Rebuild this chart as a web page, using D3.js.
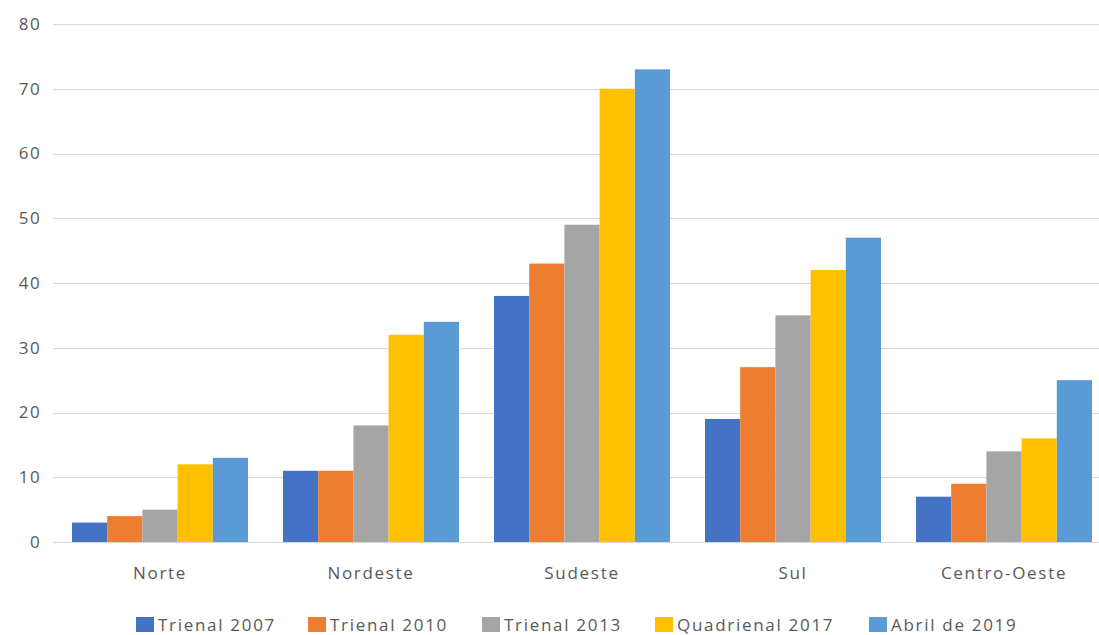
<!DOCTYPE html>
<html>
<head>
<meta charset="utf-8">
<script src="https://cdn.jsdelivr.net/npm/d3@7"></script>
<style>
  html, body { margin: 0; padding: 0; background: #fff; }
  svg { display: block; }
  text { font-family: "Open Sans", "Noto Sans", sans-serif; fill: #595959; }
</style>
</head>
<body>
<svg id="chart" width="1099" height="635"></svg>
<script>
// Regions and evaluation periods
const regions = ["Norte", "Nordeste", "Sudeste", "Sul", "Centro-Oeste"];
const periods = ["Trienal 2007", "Trienal 2010", "Trienal 2013", "Quadrienal 2017", "Abril de 2019"];

// Values per period, in region order
const trienal2007    = [3, 11, 38, 19, 7];
const trienal2010    = [4, 11, 43, 27, 9];
const trienal2013    = [5, 18, 49, 35, 14];
const quadrienal2017 = [12, 32, 70, 42, 16];
const abril2019      = [13, 34, 73, 47, 25];

const yTicks = [0, 10, 20, 30, 40, 50, 60, 70, 80];
const colors = ["#4472C4", "#ED7D31", "#A5A5A5", "#FFC000", "#5B9BD5"];

const seriesValues = [trienal2007, trienal2010, trienal2013, quadrienal2017, abril2019];
const rows = regions.map((r, i) => ({
  region: r,
  values: periods.map((p, j) => ({ period: p, value: seriesValues[j][i] }))
}));

const svg = d3.select("#chart");
const W = 1099;
const plotLeft = 53, plotRight = W;
const FONT = 17, SPACING = 1.7;

const y = d3.scaleLinear().domain([0, 80]).range([542, 24]);
const x0 = d3.scaleBand().domain(regions).range([54.5, 1109.5])
  .paddingInner(35 / 211).paddingOuter(35 / 422);
const x1 = d3.scaleBand().domain(periods).range([0, x0.bandwidth()]);
const color = d3.scaleOrdinal().domain(periods).range(colors);

// Horizontal gridlines
svg.append("g")
  .selectAll("line")
  .data(yTicks)
  .join("line")
  .attr("x1", plotLeft).attr("x2", plotRight)
  .attr("y1", d => Math.round(y(d)) + 0.5)
  .attr("y2", d => Math.round(y(d)) + 0.5)
  .attr("stroke", "#d9d9d9")
  .attr("stroke-width", 1.2);

// Y axis labels
const yAxis = d3.axisLeft(y).tickValues(yTicks).tickSize(0).tickPadding(0);
svg.append("g")
  .attr("transform", "translate(41.5,0)")
  .call(yAxis)
  .call(g => g.select(".domain").remove())
  .call(g => g.selectAll("text")
    .attr("font-family", "'Open Sans', sans-serif")
    .attr("font-size", FONT)
    .attr("letter-spacing", SPACING)
    .attr("fill", "#595959"));

// Bars
const groups = svg.append("g")
  .selectAll("g")
  .data(rows)
  .join("g")
  .attr("transform", d => `translate(${x0(d.region)},0)`);

groups.selectAll("rect")
  .data(d => d.values)
  .join("rect")
  .attr("x", d => x1(d.period))
  .attr("width", x1.bandwidth())
  .attr("y", d => y(d.value))
  .attr("height", d => y(0) - y(d.value))
  .attr("fill", d => color(d.period));

// Category axis labels
const xAxis = d3.axisBottom(x0).tickSize(0).tickPadding(0);
svg.append("g")
  .attr("transform", "translate(0,567)")
  .call(xAxis)
  .call(g => g.select(".domain").remove())
  .call(g => g.selectAll("text")
    .attr("font-family", "'Open Sans', sans-serif")
    .attr("font-size", FONT)
    .attr("letter-spacing", SPACING)
    .attr("fill", "#595959"));

// Legend
const legendX = [136, 308, 482, 655, 869];
const legend = svg.append("g")
  .selectAll("g")
  .data(periods)
  .join("g")
  .attr("transform", (d, i) => `translate(${legendX[i]},617)`);

legend.append("rect")
  .attr("width", 18).attr("height", 15)
  .attr("fill", d => color(d));

legend.append("text")
  .attr("x", 22).attr("y", 14)
  .attr("font-size", FONT)
  .attr("letter-spacing", SPACING)
  .text(d => d);
</script>
</body>
</html>
